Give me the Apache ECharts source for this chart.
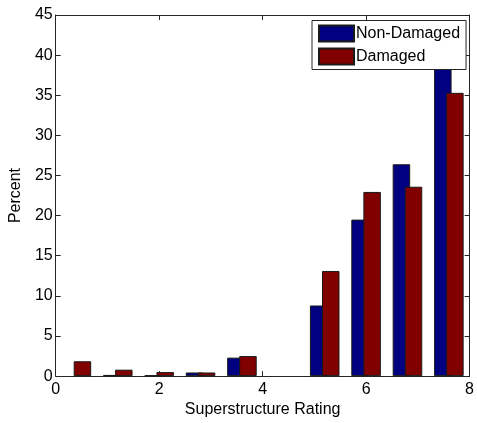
<!DOCTYPE html>
<html>
<head>
<meta charset="utf-8">
<style>
  html, body { margin: 0; padding: 0; background: #fff; }
  #chart { width: 477px; height: 423px; }
</style>
<script src="https://cdn.jsdelivr.net/npm/echarts@6/dist/echarts.min.js"></script>
</head>
<body>
<div id="chart"></div>
<script>
// Histogram bin centres (10 bins over 0..8) and percentages per group
const binCenters = [0.4, 1.2, 2.0, 2.8, 3.6, 4.4, 5.2, 6.0, 6.8, 7.6];
const nonDamaged = [0, 0.15, 0.1, 0.45, 2.3, 0, 8.8, 19.5, 26.4, 39.0];
const damaged    = [1.85, 0.8, 0.5, 0.45, 2.5, 0, 13.1, 22.95, 23.6, 35.3];
const xTicks = [0, 2, 4, 6, 8];
const yMax = 45;
const yStep = 5;

const axisColor = '#262626';
const font = 'Liberation Sans, Arial, Helvetica, sans-serif';

// empty bins get no outline so nothing is drawn on the baseline
const pairs = (vals) => binCenters.map((c, i) =>
  vals[i] === 0
    ? { value: [c, 0], itemStyle: { borderWidth: 0, opacity: 0 } }
    : { value: [c, vals[i]] });

const chart = echarts.init(document.getElementById('chart'), null, { renderer: 'canvas' });

const tickLine = { show: true, inside: true, length: 5, lineStyle: { color: axisColor, width: 1 } };
const line = { show: true, onZero: false, lineStyle: { color: axisColor, width: 1 } };

chart.setOption({
  animation: false,
  backgroundColor: '#fff',
  textStyle: { fontFamily: font },
  grid: { left: 53, right: 6.5, top: 15, bottom: 44.7, containLabel: false },
  legend: {
    orient: 'vertical',
    left: 312,
    top: 20.5,
    padding: [4, 6, 4, 6],
    itemWidth: 35,
    itemHeight: 16,
    itemGap: 5,
    backgroundColor: '#fff',
    borderColor: axisColor,
    borderWidth: 1,
    borderRadius: 0,
    icon: 'rect',
    textStyle: { fontSize: 16, color: '#000', fontFamily: font, padding: [0, 0, 0, -3] },
    data: ['Non-Damaged', 'Damaged']
  },
  xAxis: [
    {
      type: 'value', min: xTicks[0], max: xTicks[xTicks.length - 1], interval: 2,
      position: 'bottom',
      axisLine: line, axisTick: tickLine, splitLine: { show: false },
      axisLabel: { fontSize: 16, color: '#000', margin: 5, fontFamily: font },
      name: 'Superstructure Rating', nameLocation: 'middle', nameGap: 25,
      nameTextStyle: { fontSize: 16, color: '#000', fontFamily: font }
    },
    {
      type: 'value', min: xTicks[0], max: xTicks[xTicks.length - 1], interval: 2,
      position: 'top',
      axisLine: line, axisTick: tickLine, splitLine: { show: false },
      axisLabel: { show: false }
    }
  ],
  yAxis: [
    {
      type: 'value', min: 0, max: yMax, interval: yStep,
      position: 'left',
      axisLine: line, axisTick: tickLine, splitLine: { show: false },
      axisLabel: { fontSize: 16, color: '#000', margin: 3, fontFamily: font },
      name: 'Percent', nameLocation: 'middle', nameGap: 23,
      nameTextStyle: { fontSize: 16, color: '#000', fontFamily: font }
    },
    {
      type: 'value', min: 0, max: yMax, interval: yStep,
      position: 'right',
      axisLine: line, axisTick: tickLine, splitLine: { show: false },
      axisLabel: { show: false }
    }
  ],
  series: [
    {
      name: 'Non-Damaged', type: 'bar', xAxisIndex: 0, yAxisIndex: 0,
      barWidth: 17.5, barGap: '-31%',
      itemStyle: { color: '#000080', borderColor: '#1a1a1a', borderWidth: 1 },
      data: pairs(nonDamaged)
    },
    {
      name: 'Damaged', type: 'bar', xAxisIndex: 0, yAxisIndex: 0,
      barWidth: 17.5, barGap: '-31%',
      itemStyle: { color: '#800000', borderColor: '#1a1a1a', borderWidth: 1 },
      data: pairs(damaged)
    }
  ]
});
</script>
</body>
</html>
